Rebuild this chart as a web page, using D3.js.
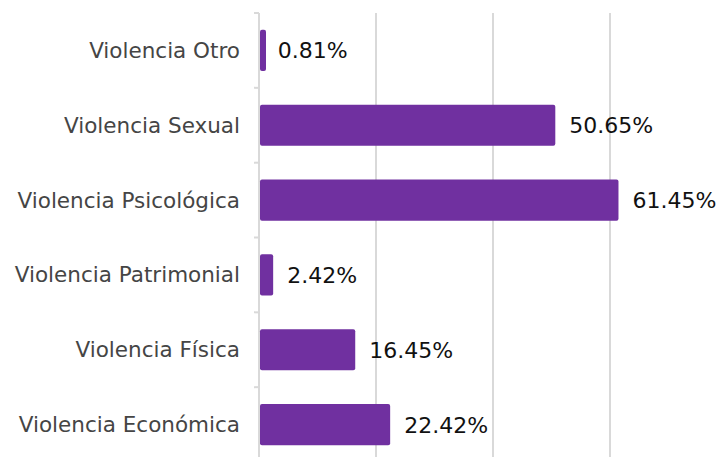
<!DOCTYPE html>
<html>
<head>
<meta charset="utf-8">
<script src="https://cdn.jsdelivr.net/npm/d3@7"></script>
<style>
  html, body { margin: 0; padding: 0; background: #fff; }
  svg { display: block; }
</style>
</head>
<body>
<div id="chart"></div>
<script>
const categories = [
  "Violencia Otro",
  "Violencia Sexual",
  "Violencia Psicológica",
  "Violencia Patrimonial",
  "Violencia Física",
  "Violencia Económica"
];
const values = [0.81, 50.65, 61.45, 2.42, 16.45, 22.42];
const gridTicks = [0, 20, 40, 60];

const rows = categories.map((c, i) => ({ cat: c, value: values[i] }));

function createBarChart() {
  const width = 716;
  const height = 457;

  const svg = d3.select("#chart")
    .append("svg")
    .attr("width", width)
    .attr("height", height);

  const xScale = d3.scaleLinear()
    .domain([0, 80])
    .range([259, 259 + 5.85 * 80]);

  const yScale = d3.scaleBand()
    .domain(categories)
    .range([13, 462])
    .paddingInner(0.45)
    .paddingOuter(0.225);

  // vertical gridlines
  svg.append("g")
    .attr("class", "gridlines")
    .selectAll("line")
    .data(gridTicks)
    .join("line")
    .attr("x1", (d) => xScale(d))
    .attr("x2", (d) => xScale(d))
    .attr("y1", 13)
    .attr("y2", height + 5)
    .attr("stroke", "#d9d9d9")
    .attr("stroke-width", 2);

  // small tick marks on the category axis (band edges)
  const edges = categories.map((c) => yScale(c) - yScale.step() * yScale.paddingOuter());
  svg.append("g")
    .selectAll("line")
    .data(edges)
    .join("line")
    .attr("x1", xScale(0) - 5)
    .attr("x2", xScale(0))
    .attr("y1", (d) => d)
    .attr("y2", (d) => d)
    .attr("stroke", "#d9d9d9")
    .attr("stroke-width", 2);

  // bars
  svg.append("g")
    .attr("class", "bars")
    .selectAll("rect")
    .data(rows)
    .join("rect")
    .attr("x", xScale(0) + 1)
    .attr("y", (d) => yScale(d.cat))
    .attr("width", (d) => Math.max(6, xScale(d.value) - xScale(0) - 1))
    .attr("height", yScale.bandwidth())
    .attr("rx", 2)
    .attr("fill", "#7030A0");

  // category labels
  svg.append("g")
    .selectAll("text")
    .data(rows)
    .join("text")
    .attr("x", xScale(0) - 19)
    .attr("y", (d) => yScale(d.cat) + yScale.bandwidth() / 2)
    .attr("dy", "0.35em")
    .attr("text-anchor", "end")
    .attr("font-family", "DejaVu Sans")
    .attr("font-size", 21.5)
    .attr("fill", "#454545")
    .text((d) => d.cat);

  // value labels
  svg.append("g")
    .selectAll("text")
    .data(rows)
    .join("text")
    .attr("x", (d) => xScale(d.value) + 14)
    .attr("y", (d) => yScale(d.cat) + yScale.bandwidth() / 2)
    .attr("dy", "0.36em")
    .attr("font-family", "DejaVu Sans")
    .attr("font-size", 22)
    .attr("fill", "#111")
    .text((d) => d.value.toFixed(2) + "%");
}

createBarChart();
</script>
</body>
</html>
